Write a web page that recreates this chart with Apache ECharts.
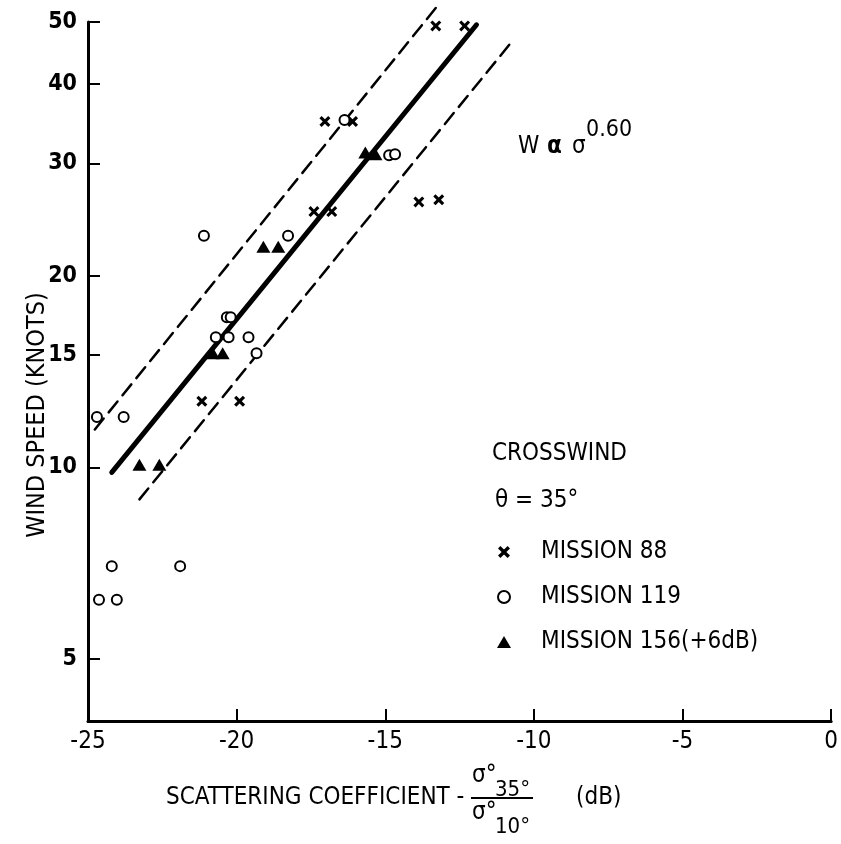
<!DOCTYPE html>
<html>
<head>
<meta charset="utf-8">
<script src="https://cdn.jsdelivr.net/npm/echarts@6/dist/echarts.min.js"></script>
<style>
  html, body { margin: 0; padding: 0; background: #fff; }
  #chart { width: 841px; height: 844px; }
</style>
</head>
<body>
<div id="chart"></div>
<script>
// scattering coefficient (dB), wind speed (knots)
const mission88 = [
  [-13.3, 49.3], [-12.33, 49.3], [-17.03, 34.9], [-16.1, 34.9],
  [-13.87, 26.1], [-13.2, 26.3], [-17.4, 25.2], [-16.8, 25.2],
  [-21.17, 12.7], [-19.9, 12.7]
];
const mission119 = [
  [-16.37, 35.1], [-14.87, 30.9], [-14.67, 31.0], [-21.1, 23.1],
  [-18.27, 23.1], [-20.33, 17.2], [-20.2, 17.2], [-20.7, 16.0],
  [-20.27, 16.0], [-19.6, 16.0], [-19.33, 15.1], [-24.7, 12.0],
  [-23.8, 12.0], [-24.2, 7.0], [-21.9, 7.0], [-24.63, 6.2], [-24.03, 6.2]
];
const mission156 = [
  [-15.67, 31.2], [-15.33, 31.0], [-19.1, 22.2], [-18.6, 22.2],
  [-20.8, 15.1], [-20.47, 15.1], [-23.27, 10.1], [-22.6, 10.1]
];
// fitted line and the two dashed bounds
const fitLine = [[-24.2, 9.82], [-11.93, 49.5]];
const upperBound = [[-24.77, 11.47], [-13.27, 52.8]];
const lowerBound = [[-23.27, 8.91], [-10.77, 46.4]];

const yTicks = [5, 10, 15, 20, 30, 40, 50];
const yMin = 4, yMax = 50;
const xMin = -25, xMax = 0, xStep = 5;

const FONT = '"Liberation Sans Narrow", "DejaVu Sans Condensed", "Arial Narrow", sans-serif';
const CROSS = 'path://M0,2L2,0L5,3L8,0L10,2L7,5L10,8L8,10L5,7L2,10L0,8L3,5Z';

// wind speed axis is logarithmic: plot log10 values on a value axis
const toLog = (pts) => pts.map(([x, w]) => [x, Math.log10(w)]);

const chart = echarts.init(document.getElementById('chart'), null, { renderer: 'canvas' });

const lineSeries = (data, width, type) => ({
  type: 'line',
  data: toLog(data),
  showSymbol: false,
  symbol: 'none',
  clip: false,
  silent: true,
  lineStyle: { color: '#000', width: width, type: type, cap: 'round' },
  z: 1
});

chart.setOption({
  animation: false,
  backgroundColor: '#fff',
  grid: { left: 88, right: 3, top: 22, bottom: 123 },
  xAxis: {
    type: 'value',
    min: xMin,
    max: xMax,
    interval: xStep,
    axisLine: { onZero: false, lineStyle: { color: '#000', width: 3 } },
    axisTick: { inside: true, length: 12, lineStyle: { color: '#000', width: 2 } },
    axisLabel: { color: '#000', fontFamily: FONT, fontSize: 24, margin: 9 },
    splitLine: { show: false }
  },
  yAxis: {
    type: 'value',
    min: Math.log10(yMin),
    max: Math.log10(yMax),
    axisLine: { onZero: false, lineStyle: { color: '#000', width: 3 } },
    axisTick: {
      inside: true, length: 12,
      customValues: yTicks.map(v => Math.log10(v)),
      lineStyle: { color: '#000', width: 2 }
    },
    axisLabel: {
      color: '#000', fontFamily: FONT, fontSize: 23, fontWeight: 'bold', margin: 11,
      customValues: yTicks.map(v => Math.log10(v)),
      formatter: (v) => String(Math.round(Math.pow(10, v)))
    },
    splitLine: { show: false }
  },
  legend: {
    orient: 'vertical',
    left: 492,
    top: 533,
    itemWidth: 14,
    itemHeight: 12,
    itemGap: 17,
    symbolKeepAspect: true,
    textStyle: { color: '#000', fontFamily: FONT, fontSize: 24, lineHeight: 28, padding: [0, 0, 0, 25] },
    data: [
      { name: 'MISSION 88', icon: CROSS },
      { name: 'MISSION 119', icon: 'emptyCircle' },
      { name: 'MISSION 156(+6dB)', icon: 'triangle' }
    ]
  },
  graphic: [
    {
      type: 'text', x: 37, y: 415, rotation: Math.PI / 2,
      style: { text: 'WIND SPEED (KNOTS)', font: '25px ' + FONT, fill: '#000', align: 'center', verticalAlign: 'middle' }
    },
    { type: 'text', left: 492, top: 442, style: { text: 'CROSSWIND', font: '24px ' + FONT, fill: '#000' } },
    { type: 'text', left: 495, top: 489, style: { text: 'θ = 35°', font: '24px ' + FONT, fill: '#000' } },
    { type: 'text', left: 518, top: 135, style: { text: 'W', font: '24px ' + FONT, fill: '#000' } },
    { type: 'text', left: 547, top: 135, style: { text: 'α', font: 'bold 24px ' + FONT, fill: '#000' } },
    { type: 'text', left: 572, top: 135, style: { text: 'σ', font: '24px ' + FONT, fill: '#000' } },
    { type: 'text', left: 586, top: 119, style: { text: '0.60', font: '23px ' + FONT, fill: '#000' } },
    { type: 'text', left: 166, top: 786, style: { text: 'SCATTERING COEFFICIENT -', font: '24px ' + FONT, fill: '#000' } },
    { type: 'text', left: 472, top: 764, style: { text: 'σ°', font: '24px ' + FONT, fill: '#000' } },
    { type: 'text', left: 495, top: 779, style: { text: '35°', font: '22px ' + FONT, fill: '#000' } },
    { type: 'line', shape: { x1: 471, y1: 798, x2: 533, y2: 798 }, style: { stroke: '#000', lineWidth: 2 } },
    { type: 'text', left: 472, top: 801, style: { text: 'σ°', font: '24px ' + FONT, fill: '#000' } },
    { type: 'text', left: 495, top: 816, style: { text: '10°', font: '22px ' + FONT, fill: '#000' } },
    { type: 'text', left: 576, top: 786, style: { text: '(dB)', font: '24px ' + FONT, fill: '#000' } }
  ],
  series: [
    lineSeries(fitLine, 5, 'solid'),
    lineSeries(upperBound, 2.5, [14, 8]),
    lineSeries(lowerBound, 2.5, [14, 8]),
    {
      name: 'MISSION 88',
      type: 'scatter',
      data: toLog(mission88),
      symbol: CROSS,
      symbolSize: 11,
      itemStyle: { color: '#000', opacity: 1 },
      z: 3
    },
    {
      name: 'MISSION 119',
      type: 'scatter',
      data: toLog(mission119),
      symbol: 'emptyCircle',
      symbolSize: 10,
      itemStyle: { color: '#000', borderColor: '#000', borderWidth: 2, opacity: 1 },
      z: 3
    },
    {
      name: 'MISSION 156(+6dB)',
      type: 'scatter',
      data: toLog(mission156),
      symbol: 'triangle',
      symbolSize: [14, 12],
      itemStyle: { color: '#000', opacity: 1 },
      z: 3
    }
  ]
});
</script>
</body>
</html>
